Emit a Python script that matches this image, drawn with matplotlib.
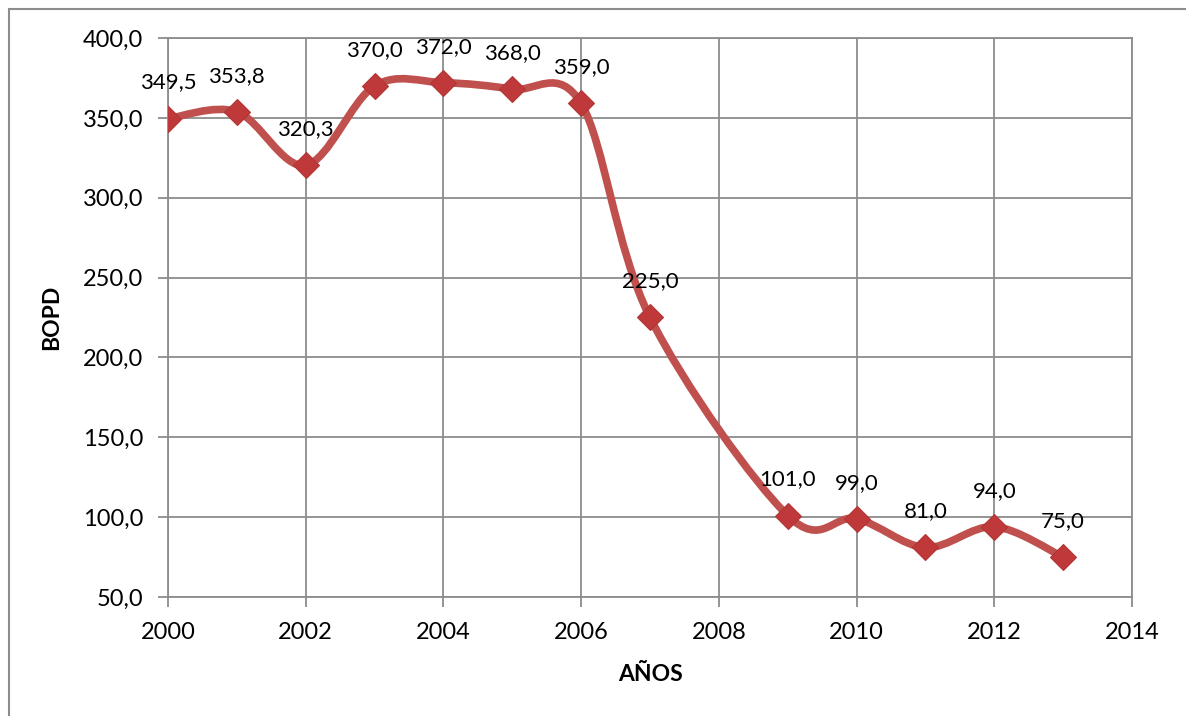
import matplotlib
matplotlib.use("Agg")
import matplotlib.pyplot as plt
from matplotlib.path import Path
from matplotlib.patches import PathPatch, Rectangle
import numpy as np

years = [2000, 2001, 2002, 2003, 2004, 2005, 2006, 2007, 2009, 2010, 2011, 2012, 2013]
bopd = [349.5, 353.8, 320.3, 370.0, 372.0, 368.0, 359.0, 225.0, 101.0, 99.0, 81.0, 94.0, 75.0]
labels = ["349,5", "353,8", "320,3", "370,0", "372,0", "368,0", "359,0", "225,0",
          "101,0", "99,0", "81,0", "94,0", "75,0"]
xticks = [2000, 2002, 2004, 2006, 2008, 2010, 2012, 2014]
yticks = [50, 100, 150, 200, 250, 300, 350, 400]

plt.rcParams['font.family'] = ['Lato', 'DejaVu Sans']

fig = plt.figure(figsize=(11.86, 7.16), dpi=100)
ax = fig.add_axes([168/1186, 1-597/716, (1132-168)/1186, (597-38)/716])

# outer chart border
fig.patches.append(Rectangle((9/1186, -0.05), 1.1, 1-9/716+0.05, transform=fig.transFigure,
                             fill=False, edgecolor='#8c8c8c', linewidth=1.5, zorder=0))

ax.set_xlim(2000, 2014)
ax.set_ylim(50, 400)
ax.set_xticks(xticks)
ax.set_yticks(yticks)
ax.set_xticklabels([str(t) for t in xticks])
ax.set_yticklabels([f"{t:.1f}".replace('.', ',') for t in yticks])
ax.grid(True, color='#8c8c8c', linewidth=1.3)
ax.set_axisbelow(True)
for s in ax.spines.values():
    s.set_color('#8c8c8c')
    s.set_linewidth(1.3)
ax.tick_params(axis='both', direction='out', length=7, width=1.3, color='#8c8c8c',
               labelsize=17)
ax.tick_params(axis='x', pad=11)
ax.tick_params(axis='y', pad=11)

# smoothed line (Excel-like Bezier smoothing)
xs = np.array(years, dtype=float)
ys = np.array(bopd, dtype=float)
n = len(xs)
verts = [(xs[0], ys[0])]
codes = [Path.MOVETO]
for i in range(n - 1):
    p0 = np.array([xs[max(i-1, 0)], ys[max(i-1, 0)]])
    p1 = np.array([xs[i], ys[i]])
    p2 = np.array([xs[i+1], ys[i+1]])
    p3 = np.array([xs[min(i+2, n-1)], ys[min(i+2, n-1)]])
    c1 = p1 + (p2 - p0) / 6.0
    c2 = p2 - (p3 - p1) / 6.0
    verts += [tuple(c1), tuple(c2), tuple(p2)]
    codes += [Path.CURVE4] * 3
ax.add_patch(PathPatch(Path(verts, codes), facecolor='none', edgecolor='#C0504D',
                       linewidth=5.5, capstyle='round', joinstyle='round', zorder=3))

ax.plot(years, bopd, linestyle='none', marker='D', markersize=13.5,
        markerfacecolor='#C0393A', markeredgecolor='#B03535', markeredgewidth=0.8, zorder=4)

for x, y, lab in zip(years, bopd, labels):
    ax.annotate(lab, (x, y), xytext=(0, 26), textcoords='offset points',
                ha='center', va='center', fontsize=16, color='black', zorder=5)

ax.set_ylabel('BOPD', fontsize=16.5, fontweight='bold', labelpad=15)
ax.set_xlabel('AÑOS', fontsize=16.5, fontweight='bold', labelpad=15)

fig.savefig('out.png', dpi=100)
